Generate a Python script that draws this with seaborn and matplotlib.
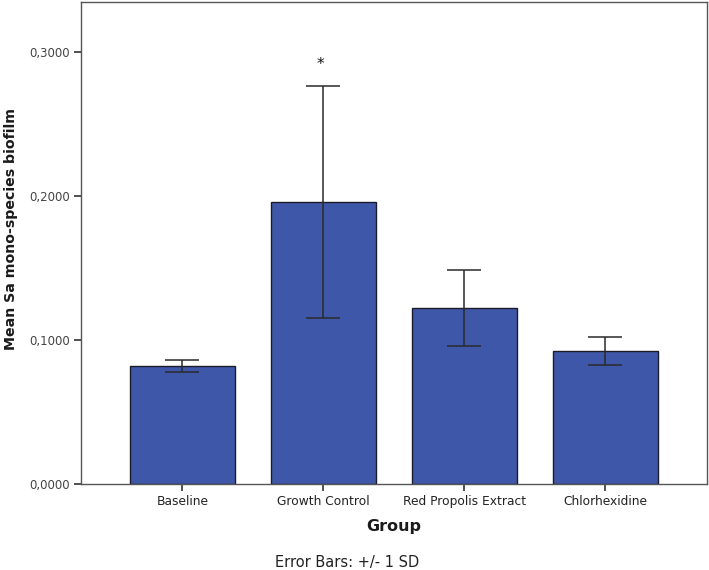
import matplotlib
matplotlib.use("Agg")
import matplotlib.pyplot as plt
import matplotlib.ticker as mticker
import pandas as pd
import seaborn as sns

groups = ["Baseline", "Growth Control", "Red Propolis Extract", "Chlorhexidine"]
means = [0.0820, 0.1960, 0.1222, 0.0926]
sds = [0.0040, 0.0805, 0.0266, 0.0097]
significant = [False, True, False, False]

df = pd.DataFrame({"group": groups, "mean": means, "sd": sds})

sns.set_theme(style="white")
plt.rcParams["font.family"] = ["DejaVu Sans"]

fig = plt.figure(figsize=(7.09, 5.70), dpi=100)
ax = fig.add_axes([0.1142, 0.1509, 0.8828, 0.8456])

sns.barplot(
    data=df,
    x="group",
    y="mean",
    order=groups,
    color="#3E57A8",
    saturation=1,
    width=0.75,
    edgecolor="#1b1b2a",
    linewidth=1.0,
    errorbar=None,
    ax=ax,
)

# SD whiskers on the categorical positions
ax.errorbar(
    x=range(len(groups)),
    y=df["mean"],
    yerr=df["sd"],
    fmt="none",
    ecolor="#2a2a2a",
    elinewidth=1.1,
    capsize=12,
    capthick=1.1,
    zorder=5,
)

for i, (m, s, sig) in enumerate(zip(means, sds, significant)):
    if sig:
        ax.annotate("*", xy=(i, m + s), xytext=(-2, 10), textcoords="offset points",
                    ha="center", va="bottom", fontsize=11, color="#111111")

ax.set_xlim(-0.72, 3.72)
ax.set_ylim(0, 0.3345)
ax.yaxis.set_major_locator(mticker.MultipleLocator(0.1))
ax.yaxis.set_major_formatter(
    mticker.FuncFormatter(lambda v, p: f"{v:.4f}".replace(".", ","))
)

for side in ["left", "bottom", "top", "right"]:
    ax.spines[side].set_visible(True)
    ax.spines[side].set_color("#555555")
    ax.spines[side].set_linewidth(1.0)

ax.tick_params(axis="both", which="major", direction="out", length=5, width=1.2,
               color="#333333", labelsize=8.5, pad=3, left=True, bottom=True)
ax.tick_params(axis="y", labelcolor="#444444")
ax.tick_params(axis="x", labelcolor="#222222", labelsize=8.8)

ax.set_xlabel("Group", fontsize=11.5, fontweight="bold", color="#1a1a1a", labelpad=8)
ax.set_ylabel("Mean Sa mono-species biofilm", fontsize=10.2, fontweight="bold",
              color="#1a1a1a")
ax.yaxis.set_label_coords(-0.101, 0.529)

fig.text(0.49, 0.014, "Error Bars: +/- 1 SD", ha="center", va="center",
         fontsize=10.5, color="#222222")

fig.savefig("out.png", dpi=100, facecolor="white")
